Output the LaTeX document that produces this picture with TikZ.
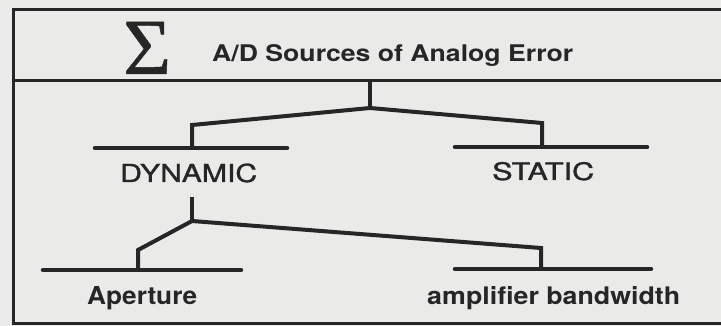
\documentclass[tikz,border=0pt]{standalone}
\usepackage{fontspec}
\usepackage{graphicx}
\newfontfamily\hv{TeX Gyre Heros}
\newfontfamily\hvmed[FakeBold=1.2]{TeX Gyre Heros}
\newfontfamily\tms{Liberation Serif}
\definecolor{bg}{RGB}{234,234,232}
\definecolor{ink}{RGB}{38,38,38}
\begin{document}
\begin{tikzpicture}[x=1pt,y=-1pt,
  frame/.style={draw=ink,line width=3pt,line cap=butt},
  tree/.style={draw=ink,line width=4pt,line join=miter,line cap=butt},
  bar/.style={draw=ink,line width=4.5pt,line cap=round},
  lbl/.style={inner sep=0pt,anchor=base west,text=ink,font=\hv}]
\fill[bg] (0,0) rectangle (721,326);
\useasboundingbox (0,0) rectangle (721,326);
% frame
\coordinate (tl) at (13,10);
\coordinate (tr) at (721,10);
\coordinate (dl) at (13,81);
\coordinate (dr) at (721,81);
\coordinate (bl) at (13,323);
\coordinate (br) at (721,323);
\draw[frame] (tr) -- (tl) -- (bl) -- (br);
\draw[frame] (dl) -- (dr);
% header
\node[inner sep=0pt,anchor=base west,text=ink] (sigma) at (123,74) {\resizebox{48pt}{52pt}{\tms\addfontfeatures{FakeBold=0.6}Σ}};
\node[lbl] (title) at (212,62) {\resizebox{361pt}{17pt}{\bfseries A/D Sources of Analog Error}};
% level 1
\coordinate (rootTop) at (370,81);
\coordinate (rootJ) at (370,108);
\coordinate (dynC) at (192,125);
\coordinate (dynT) at (192,148);
\coordinate (staC) at (542,123);
\coordinate (staT) at (542,147);
\coordinate (dynL) at (95,148);
\coordinate (dynR) at (287,148);
\coordinate (staL) at (455,147);
\coordinate (staR) at (647,147);
\draw[tree] (rootTop) -- (rootJ);
\draw[tree] (dynT) -- (dynC) -- (rootJ) -- (staC) -- (staT);
\draw[bar] (dynL) -- (dynR);
\draw[bar] (staL) -- (staR);
\node[lbl] (dyn) at (120,182) {\resizebox{137pt}{18.5pt}{\hvmed DYNAMIC}};
\node[lbl] (sta) at (492,180) {\resizebox{102pt}{18pt}{\hvmed STATIC}};
% level 2
\coordinate (dynS) at (192,197);
\coordinate (dynJ) at (192,221);
\coordinate (apC) at (138,250);
\coordinate (apT) at (138,270);
\coordinate (amC) at (541,248);
\coordinate (amT) at (541,269);
\coordinate (apL) at (43,270);
\coordinate (apR) at (241,270);
\coordinate (amL) at (455,269);
\coordinate (amR) at (651,269);
\draw[tree] (dynS) -- (dynJ);
\draw[tree] (apT) -- (apC) -- (dynJ) -- (amC) -- (amT);
\draw[bar] (apL) -- (apR);
\draw[bar] (amL) -- (amR);
\node[lbl] (ap) at (87,305) {\resizebox{110pt}{18pt}{\bfseries Aperture}};
\node[lbl] (am) at (427,305) {\resizebox{253pt}{18pt}{\bfseries amplifier bandwidth}};
\end{tikzpicture}
\end{document}
